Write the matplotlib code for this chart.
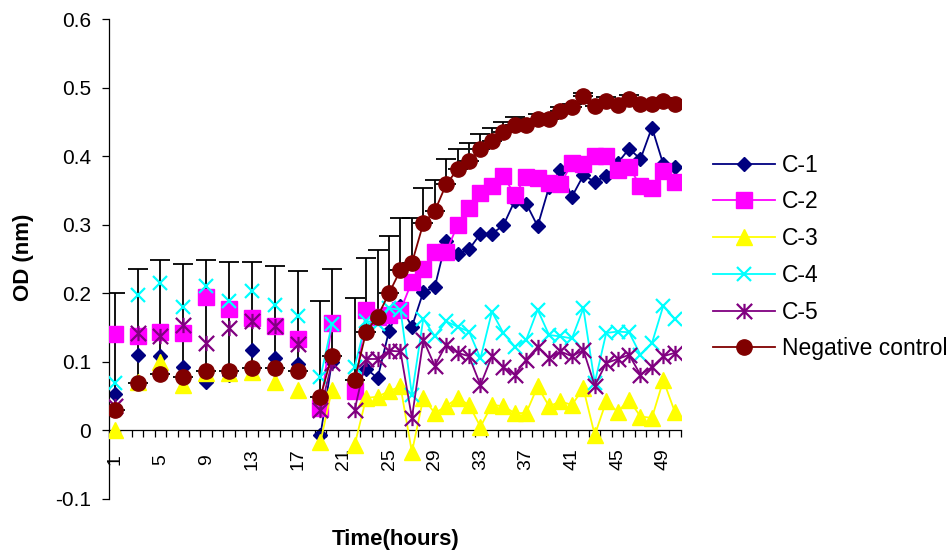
import numpy as np
import matplotlib
matplotlib.use("Agg")
import matplotlib.pyplot as plt
from matplotlib.path import Path

plt.rcParams['font.family'] = ['Liberation Sans', 'DejaVu Sans']

N = None
hours = list(range(1, 51))

# readings every 2 h until hour 17, then hourly (hour 21 missing)
c1 = [0.053, N, 0.110, N, 0.109, N, 0.092, N, 0.071, N, 0.080, N, 0.117, N, 0.105, N, 0.096, N,
      -0.007, 0.100, N, 0.060, 0.090, 0.076, 0.145, 0.182, 0.151, 0.202, 0.209, 0.277,
      0.257, 0.264, 0.287, 0.287, 0.299, 0.335, 0.331, 0.298, 0.355, 0.380,
      0.341, 0.372, 0.363, 0.371, 0.390, 0.411, 0.396, 0.442, 0.388, 0.385]
c2 = [0.140, N, 0.138, N, 0.144, N, 0.142, N, 0.195, N, 0.177, N, 0.164, N, 0.152, N, 0.133, N,
      0.032, 0.157, N, 0.057, 0.176, 0.165, 0.168, 0.175, 0.217, 0.236, 0.260, 0.260,
      0.300, 0.325, 0.346, 0.356, 0.371, 0.344, 0.370, 0.368, 0.361, 0.359,
      0.390, 0.388, 0.401, 0.400, 0.380, 0.385, 0.356, 0.354, 0.378, 0.363]
c3 = [0.000, N, 0.070, N, 0.100, N, 0.066, N, 0.083, N, 0.084, N, 0.085, N, 0.071, N, 0.059, N,
      -0.017, 0.059, N, -0.021, 0.047, 0.049, 0.057, 0.064, -0.032, 0.047, 0.025, 0.035,
      0.047, 0.037, 0.005, 0.037, 0.035, 0.025, 0.025, 0.064, 0.035, 0.042,
      0.037, 0.061, -0.007, 0.042, 0.027, 0.044, 0.020, 0.018, 0.073, 0.027]
c4 = [0.069, N, 0.198, N, 0.215, N, 0.180, N, 0.210, N, 0.188, N, 0.203, N, 0.183, N, 0.167, N,
      0.077, 0.155, N, 0.093, 0.160, 0.155, 0.178, 0.176, 0.052, 0.163, 0.137, 0.159,
      0.151, 0.144, 0.105, 0.173, 0.142, 0.122, 0.132, 0.176, 0.139, 0.137,
      0.134, 0.178, 0.069, 0.142, 0.144, 0.143, 0.110, 0.127, 0.182, 0.162]
c5 = [0.035, N, 0.142, N, 0.137, N, 0.154, N, 0.127, N, 0.149, N, 0.159, N, 0.152, N, 0.126, N,
      0.030, 0.098, N, 0.030, 0.104, 0.104, 0.116, 0.115, 0.018, 0.132, 0.094, 0.125,
      0.113, 0.108, 0.066, 0.108, 0.092, 0.081, 0.103, 0.122, 0.105, 0.115,
      0.108, 0.117, 0.065, 0.098, 0.104, 0.110, 0.081, 0.092, 0.108, 0.113]
neg = [0.030, N, 0.069, N, 0.082, N, 0.078, N, 0.087, N, 0.087, N, 0.091, N, 0.091, N, 0.086, N,
       0.049, 0.109, N, 0.074, 0.144, 0.166, 0.200, 0.234, 0.244, 0.302, 0.320, 0.359,
       0.381, 0.393, 0.411, 0.423, 0.436, 0.446, 0.445, 0.454, 0.455, 0.466,
       0.472, 0.488, 0.473, 0.481, 0.475, 0.484, 0.476, 0.476, 0.480, 0.477]
neg_err = [0.171, N, 0.166, N, 0.166, N, 0.164, N, 0.161, N, 0.158, N, 0.154, N, 0.149, N, 0.147, N,
           0.139, 0.126, N, 0.119, 0.107, 0.097, 0.083, 0.076, 0.066, 0.052, 0.045, 0.037,
           0.030, 0.027, 0.022, 0.018, 0.014, 0.012, 0.010, 0.008, 0.007, 0.006,
           0.005, 0.005, 0.005, 0.005, 0.005, 0.005, 0.005, 0.005, 0.005, 0.005]

labels = ['C-1', 'C-2', 'C-3', 'C-4', 'C-5', 'Negative control']
xtick_pos = list(range(1, 51, 4))
ytick_pos = [-0.1, 0, 0.1, 0.2, 0.3, 0.4, 0.5, 0.6]
ytick_lab = ['-0.1', '0', '0.1', '0.2', '0.3', '0.4', '0.5', '0.6']

# Excel style "star": X plus a vertical bar
star = Path([(-1, -1), (1, 1), (-1, 1), (1, -1), (0, -1), (0, 1)],
            [Path.MOVETO, Path.LINETO, Path.MOVETO, Path.LINETO, Path.MOVETO, Path.LINETO])

styles = [
    dict(color='#000080', marker='D', ms=7),
    dict(color='#FF00FF', marker='s', ms=11),
    dict(color='#FFFF00', marker='^', ms=11),
    dict(color='#00FFFF', marker='x', ms=10.5, mew=1.6),
    dict(color='#800080', marker=star, ms=11, mew=1.6),
    dict(color='#800000', marker='o', ms=11),
]

fig = plt.figure(figsize=(9.47, 5.54), dpi=100)
ax = fig.add_axes([109 / 947, 1 - 498.7 / 554, (680.5 - 109) / 947, (498.7 - 19.3) / 554])

x = np.array(hours, dtype=float)
neg_a = np.array(neg, dtype=float)
err_a = np.array(neg_err, dtype=float)
ok = ~np.isnan(neg_a)
ax.errorbar(x[ok], neg_a[ok], yerr=[np.zeros(ok.sum()), err_a[ok]], fmt='none',
            ecolor='black', elinewidth=1.3, capsize=7, capthick=1.3, zorder=1)

handles = []
for i, (ys, st) in enumerate(zip([c1, c2, c3, c4, c5, neg], styles)):
    y = np.array(ys, dtype=float)
    ln, = ax.plot(x, y, color=st['color'], lw=1.3, marker=st['marker'], ms=st['ms'],
                  mfc=st['color'], mec=st['color'], mew=st.get('mew', 1.0),
                  label=labels[i], zorder=2 + i)
    handles.append(ln)

ax.set_xlim(0.5, 50.5)
ax.set_ylim(-0.1, 0.6)

ax.spines['top'].set_visible(False)
ax.spines['right'].set_visible(False)
ax.spines['bottom'].set_position(('data', 0))
for s in ['left', 'bottom']:
    ax.spines[s].set_linewidth(0.9)

ax.set_yticks(ytick_pos)
ax.set_yticklabels(ytick_lab)
ax.tick_params(axis='y', direction='out', length=5, width=0.9, labelsize=15, pad=8)

ax.set_xticks(xtick_pos)
ax.set_xticklabels([str(v) for v in xtick_pos])
ax.set_xticks(np.arange(0.5, 51, 1), minor=True)
ax.tick_params(axis='x', which='major', length=0, labelsize=14, pad=21, labelrotation=90)
ax.tick_params(axis='x', which='minor', direction='out', length=5, width=0.9)
plt.setp(ax.get_xticklabels(), va='center')

fig.text(23 / 947, 1 - 257 / 554, 'OD (nm)', rotation=90, ha='center', va='center',
         fontsize=16, fontweight='bold')
fig.text(396 / 947, 1 - 540 / 554, 'Time(hours)', ha='center', va='center',
         fontsize=16, fontweight='bold')

fig.legend(handles=handles, loc='center left', bbox_to_anchor=(713 / 947, 1 - 257 / 554),
           bbox_transform=fig.transFigure, frameon=False, borderpad=0, borderaxespad=0,
           handlelength=2.7, handletextpad=0.3, labelspacing=0.6, fontsize=16.5)

fig.savefig('out.png', dpi=100)
